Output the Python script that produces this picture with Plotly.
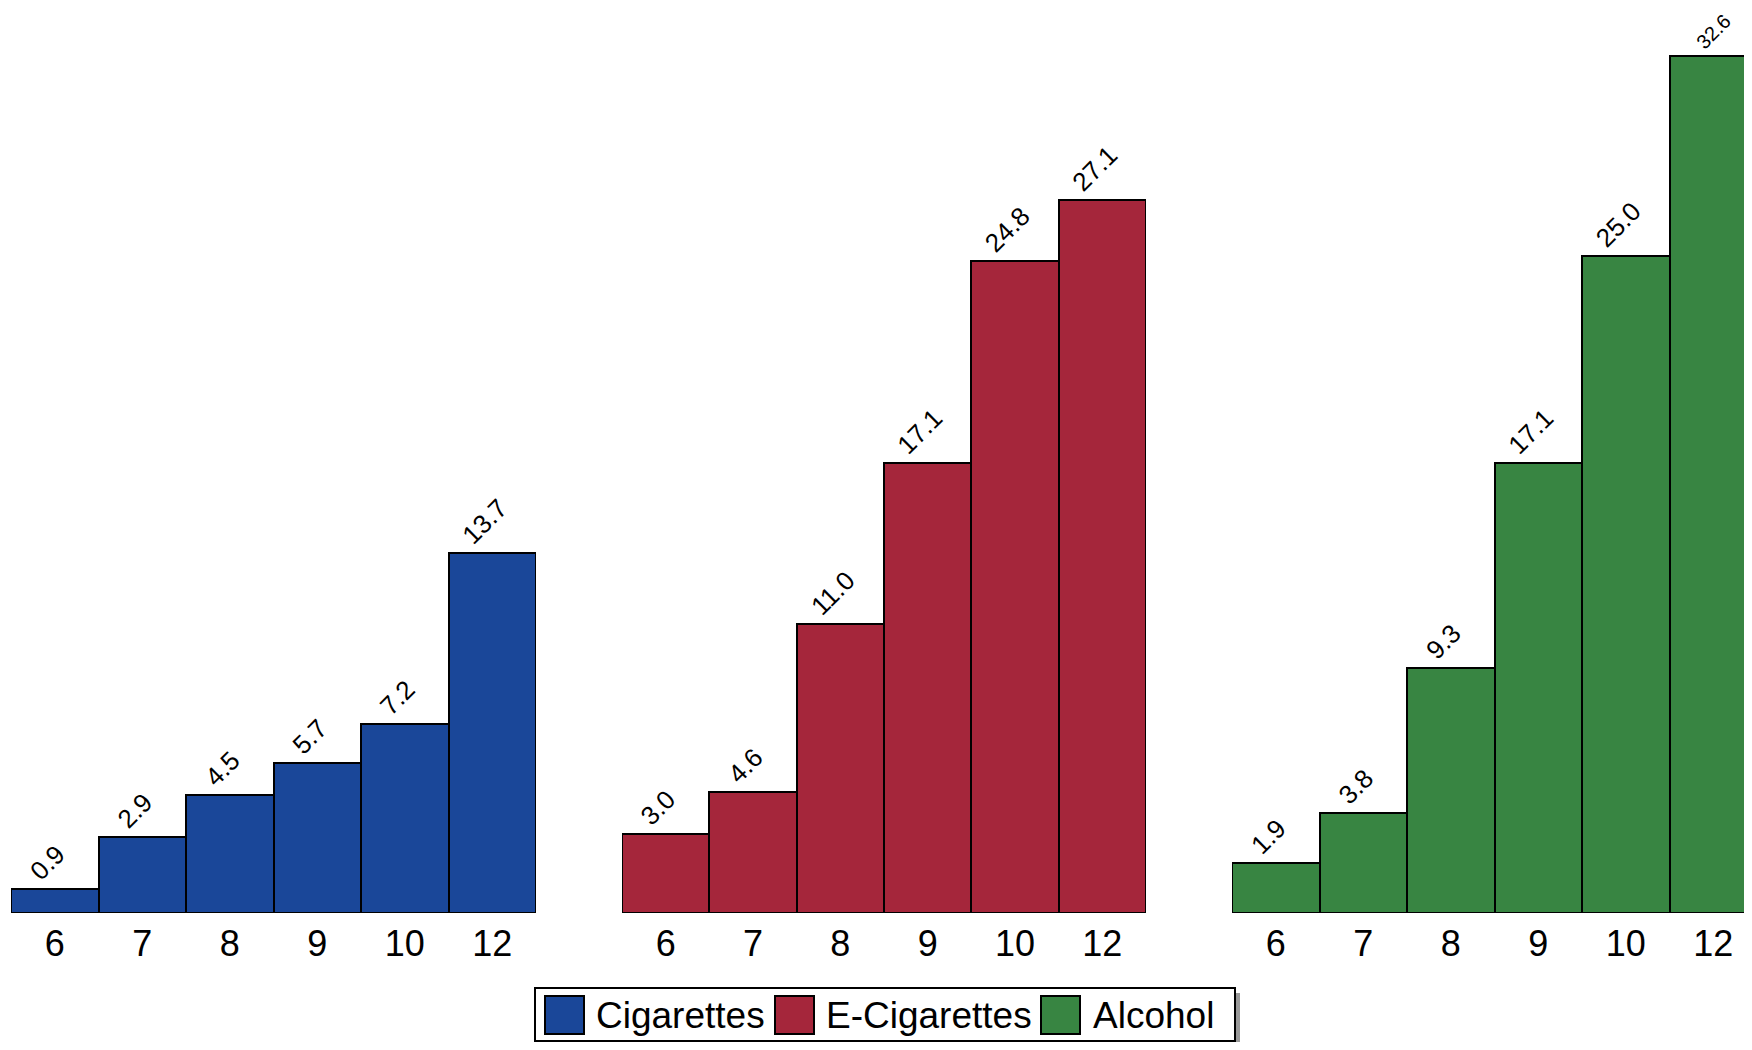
import plotly.graph_objects as go

# ---- data ----
grades = ["6", "7", "8", "9", "10", "12"]
cigarettes = [0.9, 2.9, 4.5, 5.7, 7.2, 13.7]
e_cigarettes = [3.0, 4.6, 11.0, 17.1, 24.8, 27.1]
alcohol = [1.9, 3.8, 9.3, 17.1, 25.0, 32.6]
series_names = ["Cigarettes", "E-Cigarettes", "Alcohol"]
colors = ["#1A4799", "#A5263B", "#388542"]

# page has an 8px body margin; size the figure so it fits the 1752x1050 window
OFF = 8
W, H = 1752 - OFF, 1050 - 2 * OFF
FONT = "Liberation Sans, Arial, sans-serif"

base_px = 913.0      # screen y of bar baseline
unit_px = 26.3       # pixels per percentage point
ymax = (base_px - OFF) / unit_px

fig = go.Figure()
for i, (vals, name, col) in enumerate(zip([cigarettes, e_cigarettes, alcohol], series_names, colors)):
    xa = "x" if i == 0 else f"x{i+1}"
    near_top = [v / ymax > 0.9 for v in vals]
    labels = [f"{v:.1f}" + ("" if nt else "\u00a0" * 3) for v, nt in zip(vals, near_top)]
    sizes = [20 if nt else 26 for nt in near_top]
    fig.add_trace(go.Bar(
        x=grades, y=vals, name=name, xaxis=xa, yaxis="y",
        marker=dict(color=col, line=dict(color="black", width=2)),
        width=1.0,
        text=labels, textposition="outside", textangle=-45,
        textfont=dict(family=FONT, size=sizes, color="black"),
        constraintext="none", cliponaxis=False, showlegend=False,
        hoverinfo="x+y",
    ))

# screen pixel -> paper coordinate helpers
def px_x(p):
    return (p - OFF) / W

def px_y(p):
    return 1 - (p - OFF) / H

xcommon = dict(type="category", showgrid=False, zeroline=False, showline=False,
               ticks="", tickfont=dict(family=FONT, size=36, color="black"),
               ticklabelstandoff=6, anchor="y", fixedrange=True)

bw = (536 - 11) / 6.0
fig.update_layout(
    width=W, height=H,
    margin=dict(l=0, r=0, t=0, b=0),
    paper_bgcolor="white", plot_bgcolor="white",
    bargap=0, showlegend=False,
    xaxis=dict(domain=[px_x(11), px_x(536)], range=[-0.5, 5.5], **xcommon),
    xaxis2=dict(domain=[px_x(622), px_x(1146)], range=[-0.5, 5.5], **xcommon),
    xaxis3=dict(domain=[px_x(1232), 1.0], range=[-0.5, -0.5 + (1752 - 1232) / bw], **xcommon),
    yaxis=dict(domain=[px_y(base_px), 1.0], range=[0, ymax], visible=False, fixedrange=True),
)

# ---- custom legend (large swatches, shadowed box) ----
shapes = []
annotations = []
shapes.append(dict(type="rect", xref="paper", yref="paper",
                   x0=px_x(540), x1=px_x(1240), y0=px_y(1046), y1=px_y(993),
                   fillcolor="#999999", line=dict(width=0), layer="above"))
shapes.append(dict(type="rect", xref="paper", yref="paper",
                   x0=px_x(535), x1=px_x(1235), y0=px_y(1041), y1=px_y(988),
                   fillcolor="white", line=dict(color="black", width=2), layer="above"))
sw_x = [545, 775, 1041]
tx_x = [594, 824, 1091]
for sx, tx, name, col in zip(sw_x, tx_x, series_names, colors):
    shapes.append(dict(type="rect", xref="paper", yref="paper",
                       x0=px_x(sx), x1=px_x(sx + 39), y0=px_y(1034), y1=px_y(996),
                       fillcolor=col, line=dict(color="black", width=2), layer="above"))
    annotations.append(dict(xref="paper", yref="paper", x=px_x(tx), y=px_y(1015),
                            xanchor="left", yanchor="middle", showarrow=False,
                            text=name, font=dict(family=FONT, size=37, color="black")))
fig.update_layout(shapes=shapes, annotations=annotations)

fig.write_html("out.html")
